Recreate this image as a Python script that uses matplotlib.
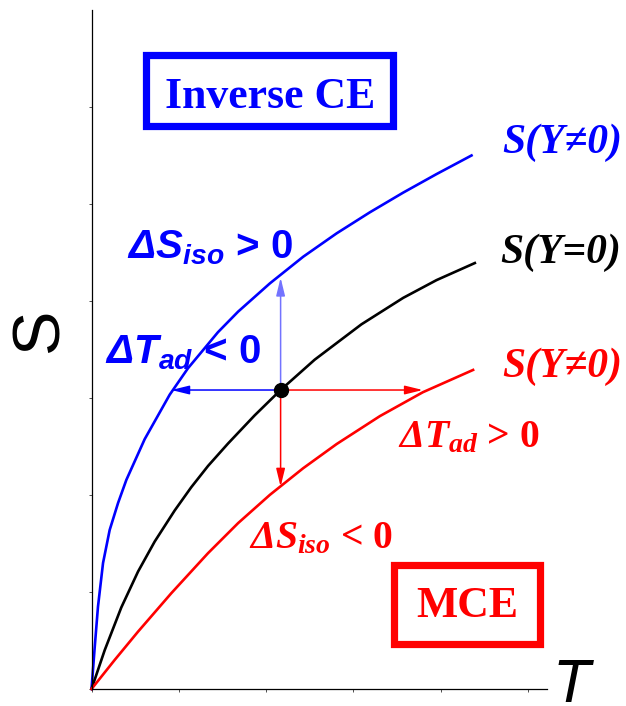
import matplotlib
matplotlib.use("Agg")
import matplotlib.pyplot as plt
from matplotlib.patches import Rectangle

plt.rcParams['mathtext.fontset'] = 'custom'
plt.rcParams['mathtext.rm'] = 'Liberation Serif:italic:bold'
plt.rcParams['mathtext.it'] = 'Liberation Serif:italic:bold'
plt.rcParams['mathtext.sf'] = 'Liberation Sans:italic:bold'
plt.rcParams['mathtext.bf'] = 'Liberation Serif:bold'

# entropy curves S(T), sampled by hand
blue_T = [0, 0.037, 0.074, 0.132, 0.208, 0.304, 0.399, 0.609, 0.896, 1.105,
          1.449, 1.68, 2.045, 2.426, 2.809, 3.190, 3.572, 3.954, 4.355]
blue_S = [0, 0.436, 0.848, 1.299, 1.639, 1.917, 2.155, 2.575, 3.034, 3.306,
          3.678, 3.890, 4.182, 4.456, 4.697, 4.914, 5.117, 5.308, 5.500]

black_T = [0, 0.151, 0.341, 0.533, 0.724, 0.953, 1.143, 1.336, 1.564, 1.869,
           2.167, 2.558, 3.093, 3.572, 3.954, 4.393]
black_S = [0, 0.40, 0.84, 1.21, 1.52, 1.84, 2.08, 2.30, 2.53, 2.82,
           3.082, 3.395, 3.759, 4.032, 4.215, 4.391]

red_T = [0, 0.266, 0.533, 0.914, 1.334, 1.68, 2.045, 2.426, 2.809, 3.305,
         3.797, 4.373]
red_S = [0, 0.30, 0.591, 0.987, 1.399, 1.71, 2.002, 2.276, 2.525, 2.813,
         3.059, 3.289]

# working point on S(Y=0) and where the arrows end
T0, S0 = 2.167, 3.082
S_up, S_down = 4.24, 2.086
T_left, T_right = 0.914, 3.797

BLUE = '#0000ff'
RED = '#ff0000'

fig = plt.figure(figsize=(6.26, 7.06), dpi=100)
ax = fig.add_axes([0.1462, 0.0241, 0.7276, 0.9618])
ax.set_xlim(0, 5.22)
ax.set_ylim(0, 7.0)
ax.set_xticks(range(0, 6))
ax.set_yticks(range(0, 7))
ax.set_xticklabels([])
ax.set_yticklabels([])
ax.tick_params(length=2.5, width=0.6, direction='out', color='#333333')
for side in ['top', 'right']:
    ax.spines[side].set_visible(False)
for side in ['left', 'bottom']:
    ax.spines[side].set_linewidth(0.9)

for T, S, c in [(blue_T, blue_S, BLUE), (black_T, black_S, 'black'),
                (red_T, red_S, RED)]:
    ax.plot(T, S, color=c, lw=1.9, clip_on=False, solid_joinstyle='round')


def arrow(tip, color):
    ax.annotate('', xy=tip, xytext=(T0, S0),
                arrowprops=dict(arrowstyle='-|>,head_length=0.9,head_width=0.22',
                                color=color, lw=1.1, shrinkA=0, shrinkB=0,
                                mutation_scale=12))


arrow((T0, S_up), '#7373ff')
arrow((T_left, S0), BLUE)
arrow((T0, S_down), RED)
arrow((T_right, S0), RED)
ax.plot([T0], [S0], 'o', color='black', ms=10, zorder=5)

# frame boxes
ax.add_patch(Rectangle((0.630, 5.799), 2.829, 0.732, fill=False,
                       edgecolor=BLUE, lw=5.2, clip_on=False))
ax.add_patch(Rectangle((3.471, 0.459), 1.672, 0.814, fill=False,
                       edgecolor=RED, lw=5.2, clip_on=False))
ax.text(2.045, 5.99, 'Inverse CE', color=BLUE, fontsize=31.5,
        family='Liberation Serif', weight='bold', ha='center', va='baseline')
ax.text(4.307, 0.742, 'MCE', color=RED, fontsize=31.5,
        family='Liberation Serif', weight='bold', ha='center', va='baseline')

serif_bi = dict(family=['Liberation Serif', 'DejaVu Serif'], weight='bold',
                style='italic', fontsize=30, va='baseline', clip_on=False)
ax.text(4.702, 5.526, 'S(Y≠0)', color=BLUE, **serif_bi)
ax.text(4.679, 4.392, 'S(Y=0)', color='black', **serif_bi)
ax.text(4.702, 3.216, 'S(Y≠0)', color=RED, **serif_bi)

ax.text(3.511, 2.495, r'$\mathit{\Delta T_{ad}}$ > 0', color=RED,
        family='Liberation Serif', weight='bold', fontsize=28.5, va='baseline')
ax.text(1.804, 1.454, r'$\mathit{\Delta S_{iso}}$ < 0', color=RED,
        family='Liberation Serif', weight='bold', fontsize=28.5, va='baseline')

ax.text(0.407, 4.443, r'$\mathsf{\Delta S_{iso}}$ > 0', color=BLUE,
        family='Liberation Sans', weight='bold', fontsize=29, va='baseline')
ax.text(0.155, 3.361, r'$\mathsf{\Delta T_{ad}}$ < 0', color=BLUE,
        family='Liberation Sans', weight='bold', fontsize=29, va='baseline')

# axis letters
fig.text(0.0652, 0.5312, 'S', family='Liberation Sans', fontsize=48,
         rotation=90, ha='center', va='center')
ax.text(5.286, -0.135, 'T', family='Liberation Sans', style='italic',
        fontsize=44, ha='left', va='baseline', clip_on=False)

fig.savefig('out.png', dpi=100)
